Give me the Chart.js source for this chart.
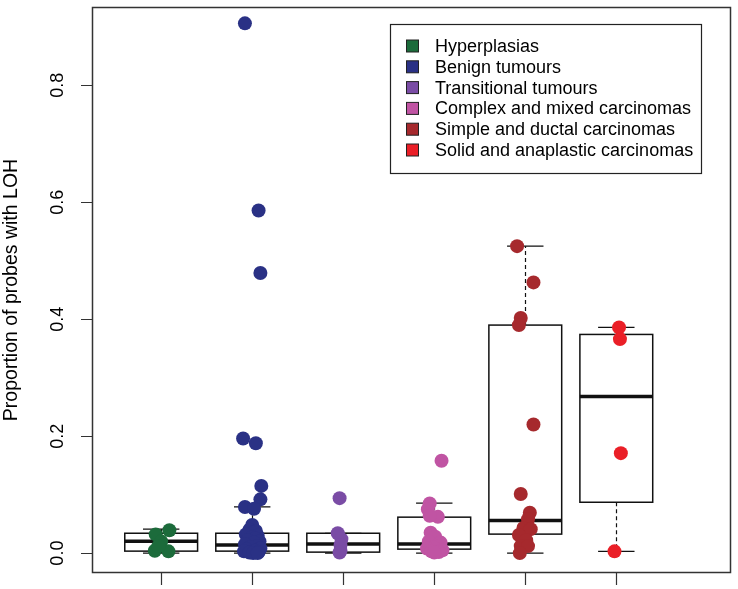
<!DOCTYPE html>
<html>
<head>
<meta charset="utf-8">
<script src="https://cdn.jsdelivr.net/npm/chart.js@4.4.1/dist/chart.umd.min.js"></script>
<style>
html,body{margin:0;padding:0;background:#fff;}
canvas{display:block;}
</style>
</head>
<body>
<canvas id="c" width="738" height="589"></canvas>
<script>
// ---- data ----
const categories = ["Hyperplasias","Benign tumours","Transitional tumours","Complex and mixed carcinomas","Simple and ductal carcinomas","Solid and anaplastic carcinomas"];
const colors = ["#1c6b3b","#2a3185","#7a4ca5","#c054a3","#a6292d","#ea1f27"];
const yTicks = [0.0,0.2,0.4,0.6,0.8];
const yTickLabels = ["0.0","0.2","0.4","0.6","0.8"];
const yTitle = "Proportion of probes with LOH";

// box statistics: lower whisker, Q1, median, Q3, upper whisker
const whiskerLow  = [0.000, 0.000, 0.000, 0.000, 0.000, 0.003];
const q1          = [0.0034,0.0034,0.0017,0.0068,0.0325,0.087];
const medians     = [0.0205,0.0137,0.0154,0.0154,0.056, 0.268];
const q3          = [0.034, 0.034, 0.034, 0.0615,0.390, 0.374];
const whiskerHigh = [0.041, 0.079, 0.034, 0.0855,0.525, 0.386];

// individual sample values and their horizontal jitter
const hypValues = [0.032,0.039,0.004,0.003,0.020,0.012];
const hypJitter = [-0.06,0.09,-0.07,0.08,0.00,-0.03];
const benValues = [0.906,0.586,0.479,0.196,0.188,0.115,0.092,0.079,0.076,0.048,0.040,0.038,0.035,0.032,0.030,0.027,0.025,0.022,0.020,0.018,0.015,0.012,0.010,0.008,0.006,0.004,0.003,0.002,0.001,0.000,0.000];
const benJitter = [-0.08,0.07,0.09,-0.10,0.04,0.10,0.09,-0.08,0.02,0.00,-0.03,0.04,0.01,-0.07,0.06,0.00,0.03,-0.05,0.08,0.02,-0.08,0.05,-0.02,0.09,-0.06,0.03,-0.09,0.07,-0.03,0.01,0.06];
const traValues = [0.094,0.034,0.024,0.014,0.004,0.001];
const traJitter = [-0.04,-0.06,-0.02,-0.03,-0.03,-0.04];
const comValues = [0.158,0.085,0.075,0.062,0.064,0.035,0.028,0.020,0.018,0.012,0.010,0.008,0.005,0.003,0.002,0.001];
const comJitter = [0.08,-0.05,-0.07,0.04,-0.05,-0.04,0.01,-0.06,0.07,0.03,-0.01,-0.08,0.09,-0.03,0.05,0.00];
const simValues = [0.525,0.463,0.402,0.390,0.220,0.101,0.069,0.058,0.043,0.041,0.031,0.022,0.012,0.012,0.000];
const simJitter = [-0.09,0.09,-0.05,-0.07,0.09,-0.05,0.05,0.03,-0.02,0.06,-0.07,0.01,-0.05,0.03,-0.06];
const solValues = [0.386,0.366,0.171,0.003];
const solJitter = [0.03,0.04,0.05,-0.02];

const groupValues = [hypValues,benValues,traValues,comValues,simValues,solValues];
const groupJitter = [hypJitter,benJitter,traJitter,comJitter,simJitter,solJitter];

const datasets = categories.map((name,i)=>({
  label: name,
  data: groupValues[i].map((v,j)=>({x: i+1+groupJitter[i][j], y: v})),
  backgroundColor: colors[i],
  borderWidth: 0,
  pointRadius: 7,
  pointHoverRadius: 7
}));

const FONT = '18px "Liberation Sans", Arial, sans-serif';
const TITLE_FONT = '19.5px "Liberation Sans", Arial, sans-serif';

const boxPlugin = {
  id: 'boxes',
  beforeDatasetsDraw(chart){
    const ctx = chart.ctx, xs = chart.scales.x, ys = chart.scales.y;
    ctx.save();
    ctx.strokeStyle = '#111';
    for(let i=0;i<categories.length;i++){
      const c = i+1;
      const xl = xs.getPixelForValue(c-0.4), xr = xs.getPixelForValue(c+0.4);
      const xc = Math.round(xs.getPixelForValue(c))+0.5;
      const cl = xs.getPixelForValue(c-0.2), cr = xs.getPixelForValue(c+0.2);
      const yq1 = ys.getPixelForValue(q1[i]), yq3 = ys.getPixelForValue(q3[i]);
      const ym = ys.getPixelForValue(medians[i]);
      const ylo = ys.getPixelForValue(whiskerLow[i]), yhi = ys.getPixelForValue(whiskerHigh[i]);
      ctx.lineWidth = 1.2;
      ctx.setLineDash([4,3]);
      ctx.beginPath();
      ctx.moveTo(xc,yq3); ctx.lineTo(xc,yhi);
      ctx.moveTo(xc,yq1); ctx.lineTo(xc,ylo);
      ctx.stroke();
      ctx.setLineDash([]);
      ctx.beginPath();
      ctx.moveTo(cl,yhi); ctx.lineTo(cr,yhi);
      ctx.moveTo(cl,ylo); ctx.lineTo(cr,ylo);
      ctx.stroke();
      ctx.fillStyle = '#fff';
      ctx.fillRect(xl,yq3,xr-xl,yq1-yq3);
      ctx.lineWidth = 1.5;
      ctx.strokeRect(xl,yq3,xr-xl,yq1-yq3);
      ctx.lineWidth = 3.5;
      ctx.beginPath();
      ctx.moveTo(xl,ym); ctx.lineTo(xr,ym);
      ctx.stroke();
    }
    ctx.restore();
  },
  afterDraw(chart){
    const ctx = chart.ctx, xs = chart.scales.x, ys = chart.scales.y, a = chart.chartArea;
    ctx.save();
    ctx.strokeStyle = '#333';
    ctx.lineWidth = 1.5;
    ctx.strokeRect(a.left+0.5, a.top+0.5, a.right-a.left-1, a.bottom-a.top-1);
    ctx.lineWidth = 1.2;
    ctx.beginPath();
    yTicks.forEach(v=>{
      const y = Math.round(ys.getPixelForValue(v))+0.5;
      ctx.moveTo(a.left,y); ctx.lineTo(a.left-11,y);
    });
    categories.forEach((n,i)=>{
      const x = Math.round(xs.getPixelForValue(i+1))+0.5;
      ctx.moveTo(x,a.bottom); ctx.lineTo(x,a.bottom+12);
    });
    ctx.stroke();
    ctx.fillStyle = '#000';
    ctx.font = FONT;
    ctx.textAlign = 'center';
    ctx.textBaseline = 'alphabetic';
    yTicks.forEach((v,k)=>{
      const y = ys.getPixelForValue(v);
      ctx.save();
      ctx.translate(63,y);
      ctx.rotate(-Math.PI/2);
      ctx.fillText(yTickLabels[k],0,0);
      ctx.restore();
    });
    ctx.save();
    ctx.font = TITLE_FONT;
    ctx.translate(17,(a.top+a.bottom)/2);
    ctx.rotate(-Math.PI/2);
    ctx.fillText(yTitle,0,0);
    ctx.restore();
    const lx = 390, ly = 24, lw = 311, lh = 149;
    ctx.fillStyle = '#fff';
    ctx.fillRect(lx,ly,lw,lh);
    ctx.strokeStyle = '#222';
    ctx.lineWidth = 1.2;
    ctx.strokeRect(lx+0.5,ly+0.5,lw,lh);
    ctx.textAlign = 'left';
    ctx.textBaseline = 'middle';
    categories.forEach((n,i)=>{
      const cy = 46 + i*20.8;
      ctx.fillStyle = colors[i];
      ctx.fillRect(406.5,cy-6,12,12);
      ctx.strokeStyle = '#222';
      ctx.lineWidth = 1;
      ctx.strokeRect(406.5,cy-6,12,12);
      ctx.fillStyle = '#000';
      ctx.fillText(n,435,cy+1);
    });
    ctx.restore();
  }
};

new Chart(document.getElementById('c'),{
  type:'scatter',
  data:{datasets},
  options:{
    responsive:false,
    animation:false,
    devicePixelRatio:1,
    layout:{padding:{left:92,top:3,right:6,bottom:16}},
    plugins:{legend:{display:false},tooltip:{enabled:false}},
    events:[],
    scales:{
      x:{type:'linear',min:0.24,max:7.26,display:false},
      y:{type:'linear',min:-0.034,max:0.934,display:false}
    }
  },
  plugins:[boxPlugin]
});
</script>
</body>
</html>
